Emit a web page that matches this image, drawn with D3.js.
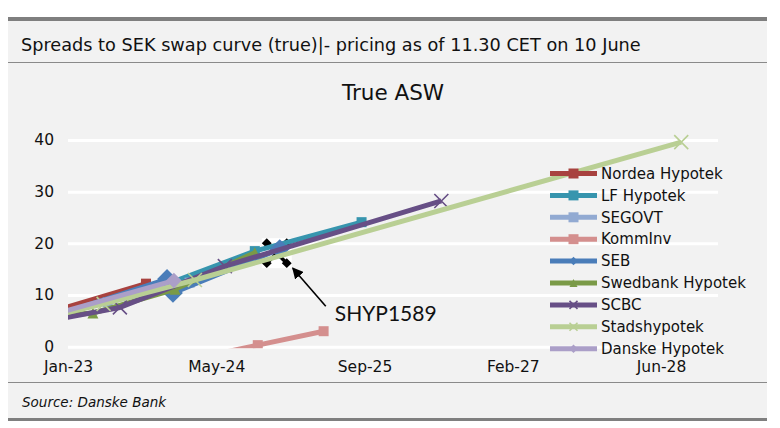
<!DOCTYPE html>
<html>
<head>
<meta charset="utf-8">
<script src="https://cdn.jsdelivr.net/npm/d3@7"></script>
<style>
  body { margin: 0; background: #fff; }
  svg text { font-family: 'DejaVu Sans', sans-serif; fill: #111; }
</style>
</head>
<body>
<div id="viz"></div>
<script>
// tick labels
const xTicks = ['2023-01-01', '2024-05-15', '2025-09-27', '2027-02-09', '2028-06-23'];
const yTicks = [0, 10, 20, 30, 40];

// series, [date, bp]
const seriesNames = ['Nordea Hypotek', 'LF Hypotek', 'SEGOVT', 'KommInv', 'SEB',
  'Swedbank Hypotek', 'SCBC', 'Stadshypotek', 'Danske Hypotek'];
const nordea = [['2022-11-15', 6.9], ['2023-09-21', 12.2]];
const lfHypotek = [['2023-12-10', 12.3], ['2024-09-22', 18.5], ['2025-09-17', 24.1]];
const segovt = [['2022-11-15', 6.2], ['2023-05-15', 8.6], ['2024-02-15', 12.4]];
const kommInv = [['2024-02-15', -2.5], ['2024-10-02', 0.3], ['2025-05-12', 3.0]];
const seb = [['2022-11-15', 5.9], ['2023-12-01', 13.1], ['2023-12-21', 10.4], ['2024-12-15', 18.9]];
const swedbank = [['2022-11-15', 5.9], ['2023-03-26', 6.5], ['2023-12-28', 11.1], ['2024-09-22', 18.2]];
const scbc = [['2022-11-15', 5.2], ['2023-06-25', 7.6], ['2024-06-13', 15.6], ['2026-06-13', 28.2]];
const stadshypotek = [['2022-11-15', 6.0], ['2023-05-01', 8.3], ['2024-03-04', 12.9], ['2028-08-30', 39.6]];
const danske = [['2022-11-15', 6.3], ['2023-12-24', 12.8]];

const highlight = { date: '2024-12-05', value: 18.1, label: 'SHYP1589' };

const seriesValues = [nordea, lfHypotek, segovt, kommInv, seb, swedbank, scbc, stadshypotek, danske];
const seriesColors = ['#a8423f', '#3795ae', '#92aad2', '#d48f8e', '#4a7db9',
  '#7a9a47', '#674f86', '#b9cf94', '#ab9fc8'];
const seriesMarkers = ['square', 'square', 'square', 'square', 'bigDiamond',
  'triangle', 'cross', 'cross', 'diamond'];

(() => {
  let margin = { top: 140, right: 62, bottom: 81.3, left: 68 },
    width = 780 - margin.left - margin.right,
    height = 428 - margin.top - margin.bottom;

  let parse = d3.timeParse('%Y-%m-%d');

  let svg = d3.select('#viz')
    .append('svg')
    .attr('width', 780)
    .attr('height', 428);

  // frame
  svg.append('rect').attr('x', 8).attr('y', 19).attr('width', 759).attr('height', 400).attr('fill', '#f2f2f2');
  svg.append('rect').attr('x', 8).attr('y', 17).attr('width', 759).attr('height', 4).attr('fill', '#7f7f7f');
  svg.append('rect').attr('x', 8).attr('y', 418).attr('width', 759).attr('height', 3).attr('fill', '#7f7f7f');
  svg.append('line').attr('x1', 8).attr('x2', 767).attr('y1', 62.5).attr('y2', 62.5)
    .attr('stroke', '#8a8a8a').attr('stroke-width', 1.2);
  svg.append('line').attr('x1', 8).attr('x2', 767).attr('y1', 382.5).attr('y2', 382.5)
    .attr('stroke', '#8a8a8a').attr('stroke-width', 1.2);

  svg.append('text')
    .attr('x', 21).attr('y', 45).attr('dy', '0.35em')
    .style('font-size', '17.7px')
    .text('Spreads to SEK swap curve (true)|- pricing as of 11.30 CET on 10 June');

  svg.append('text')
    .attr('x', 22).attr('y', 402).attr('dy', '0.35em')
    .style('font-size', '13.5px').style('font-style', 'italic')
    .text('Source: Danske Bank');

  svg.append('text')
    .attr('x', 393).attr('y', 92).attr('dy', '0.35em')
    .attr('text-anchor', 'middle')
    .style('font-size', '21.5px')
    .text('True ASW');

  let g = svg.append('g')
    .attr('transform', `translate(${margin.left}, ${margin.top})`);

  let x = d3.scaleTime()
    .domain([parse('2023-01-01'), parse('2029-01-01')])
    .range([0, width]);

  let y = d3.scaleLinear()
    .domain([0, 40])
    .range([height, 0]);

  g.append('g')
    .call(d3.axisLeft(y).tickValues(yTicks).tickSize(-width).tickPadding(14))
    .call(a => a.select('.domain').remove())
    .call(a => a.selectAll('line').attr('stroke', '#fff').attr('stroke-width', 3))
    .call(a => a.selectAll('text').style('font-size', '15.5px'));

  g.append('g')
    .attr('transform', `translate(0,${height})`)
    .call(d3.axisBottom(x).tickValues(xTicks.map(parse)).tickSize(0).tickPadding(14)
      .tickFormat(d3.timeFormat('%b-%y')))
    .call(a => a.select('.domain').remove())
    .call(a => a.selectAll('text').style('font-size', '15.5px'));

  g.append('clipPath').attr('id', 'plot-clip')
    .append('rect')
    .attr('x', 0).attr('y', -25)
    .attr('width', width + 30).attr('height', height + 26.5);

  let series = seriesNames.map((name, i) => ({
    name,
    color: seriesColors[i],
    marker: seriesMarkers[i],
    values: seriesValues[i].map(([d, v]) => ({ date: parse(d), value: v }))
  }));

  // highlighted bond, sits behind the curves
  let hx = x(parse(highlight.date)), hy = y(highlight.value);
  let hl = g.append('g').attr('transform', `translate(${hx},${hy})`);
  hl.append('rect').attr('x', -15).attr('y', -15).attr('width', 30).attr('height', 30).attr('fill', '#fff');
  hl.append('path').attr('d', 'M-10,-10L10,10M10,-10L-10,10')
    .attr('stroke', '#000').attr('stroke-width', 3.5);
  [[-10, -10], [10, -10], [-10, 10], [10, 10]].forEach(([dx, dy]) => {
    hl.append('rect')
      .attr('x', -3.5).attr('y', -3.5).attr('width', 7).attr('height', 7)
      .attr('transform', `translate(${dx},${dy}) rotate(45)`)
      .attr('fill', '#000');
  });

  let line = d3.line()
    .x(d => x(d.date))
    .y(d => y(d.value));

  let plot = g.append('g').attr('clip-path', 'url(#plot-clip)');

  series.forEach(s => {
    plot.append('path')
      .datum(s.values)
      .attr('fill', 'none')
      .attr('stroke', s.color)
      .attr('stroke-width', 5)
      .attr('stroke-linejoin', 'round')
      .attr('d', line);

    plot.selectAll(null)
      .data(s.values)
      .join('g')
      .attr('transform', d => `translate(${x(d.date)},${y(d.value)})`)
      .each(function () { drawMarker(d3.select(this), s.marker, s.color, false); });
  });

  // annotation
  let tip = [hx + 16, hy + 15], tail = [hx + 49, hy + 53];
  svg.append('defs').append('marker')
    .attr('id', 'arrow').attr('viewBox', '0 0 10 10')
    .attr('refX', 9).attr('refY', 5)
    .attr('markerWidth', 7).attr('markerHeight', 7)
    .attr('orient', 'auto-start-reverse')
    .append('path').attr('d', 'M0,0L10,5L0,10z').attr('fill', '#000');
  g.append('line')
    .attr('x1', tail[0]).attr('y1', tail[1]).attr('x2', tip[0]).attr('y2', tip[1])
    .attr('stroke', '#000').attr('stroke-width', 1.6)
    .attr('marker-end', 'url(#arrow)');
  g.append('text')
    .attr('x', tail[0] + 9).attr('y', tail[1] + 15)
    .style('font-family', 'Lato, sans-serif')
    .style('font-size', '21px')
    .text(highlight.label);

  // legend
  let legend = svg.append('g').attr('transform', 'translate(550,173.5)');
  let row = legend.selectAll('g')
    .data(series)
    .join('g')
    .attr('transform', (d, i) => `translate(0,${i * 21.9})`);
  row.append('line')
    .attr('x1', 0).attr('x2', 47)
    .attr('stroke', d => d.color).attr('stroke-width', 5);
  row.append('g')
    .attr('transform', 'translate(23.5,0)')
    .each(function (d) { drawMarker(d3.select(this), d.marker, d.color, true); });
  row.append('text')
    .attr('x', 51).attr('dy', '0.35em')
    .style('font-size', '15px')
    .text(d => d.name);

  function drawMarker(sel, type, color, small) {
    if (type === 'square') {
      let s = 10;
      sel.append('rect').attr('x', -s / 2).attr('y', -s / 2).attr('width', s).attr('height', s).attr('fill', color);
    } else if (type === 'bigDiamond' || type === 'diamond') {
      let s = small ? 6 : (type === 'bigDiamond' ? 14 : 11);
      sel.append('rect').attr('x', -s / 2).attr('y', -s / 2).attr('width', s).attr('height', s)
        .attr('transform', 'rotate(45)').attr('fill', color);
    } else if (type === 'triangle') {
      let s = small ? 8 : 11;
      sel.append('path').attr('d', `M0,${-s / 2}L${s / 2},${s / 2}L${-s / 2},${s / 2}Z`).attr('fill', color);
    } else if (type === 'cross') {
      let s = small ? 4 : 7;
      sel.append('path').attr('d', `M${-s},${-s}L${s},${s}M${s},${-s}L${-s},${s}`)
        .attr('stroke', color).attr('stroke-width', 1.6);
    }
  }
})();
</script>
</body>
</html>
